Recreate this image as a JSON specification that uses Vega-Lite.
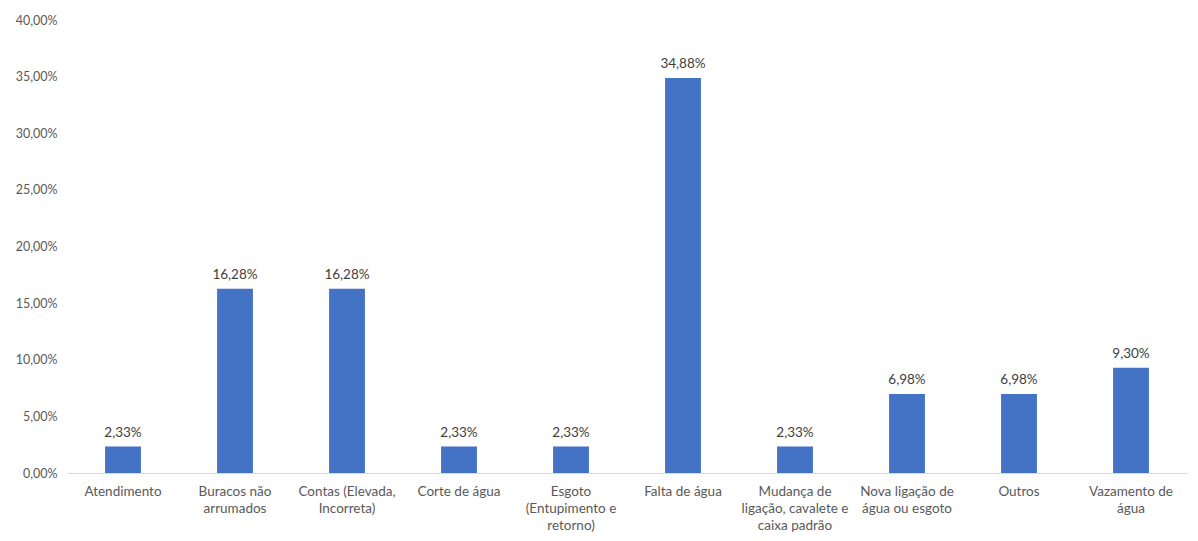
{
  "$schema": "https://vega.github.io/schema/vega-lite/v6.json",
  "autosize": {"type": "none"},
  "width": 1120,
  "height": 453,
  "padding": {"left": 67, "top": 20, "right": 11, "bottom": 68},
  "background": "white",
  "config": {
    "view": {"stroke": null},
    "font": "Lato",
    "locale": {"number": {"decimal": ",", "thousands": ".", "grouping": [3], "currency": ["R$", ""]}}
  },
  "data": {
    "values": [
      {"categoria": "Atendimento", "percentual": 0.0233},
      {"categoria": "Buracos não|arrumados", "percentual": 0.1628},
      {"categoria": "Contas (Elevada,|Incorreta)", "percentual": 0.1628},
      {"categoria": "Corte de água", "percentual": 0.0233},
      {"categoria": "Esgoto|(Entupimento e|retorno)", "percentual": 0.0233},
      {"categoria": "Falta de água", "percentual": 0.3488},
      {"categoria": "Mudança de|ligação, cavalete e|caixa padrão", "percentual": 0.0233},
      {"categoria": "Nova ligação de|água ou esgoto", "percentual": 0.0698},
      {"categoria": "Outros", "percentual": 0.0698},
      {"categoria": "Vazamento de|água", "percentual": 0.093}
    ]
  },
  "encoding": {
    "x": {
      "field": "categoria",
      "type": "nominal",
      "sort": null,
      "scale": {"paddingInner": 0.68, "paddingOuter": 0.34},
      "axis": {
        "title": null,
        "labelAngle": 0,
        "labelExpr": "split(datum.label, '|')",
        "labelFontSize": 13.5,
        "labelColor": "#595959",
        "labelPadding": 11,
        "labelLineHeight": 17,
        "labelBaseline": "top",
        "labelOverlap": false,
        "ticks": false,
        "domainColor": "#D9D9D9",
        "domainWidth": 1.2,
        "grid": false
      }
    },
    "y": {
      "field": "percentual",
      "type": "quantitative",
      "scale": {"domain": [0, 0.4], "nice": false},
      "axis": {
        "title": null,
        "format": ".2%",
        "values": [0, 0.05, 0.1, 0.15, 0.2, 0.25, 0.3, 0.35, 0.4],
        "labelOverlap": false,
        "labelFontSize": 12.5,
        "labelColor": "#595959",
        "labelPadding": 10,
        "ticks": false,
        "domain": false,
        "grid": false
      }
    }
  },
  "layer": [
    {"mark": {"type": "bar", "color": "#4472C4"}},
    {
      "mark": {"type": "text", "baseline": "bottom", "dy": -7, "fontSize": 13.5, "color": "#404040"},
      "encoding": {"text": {"field": "percentual", "type": "quantitative", "format": ".2%"}}
    }
  ]
}
